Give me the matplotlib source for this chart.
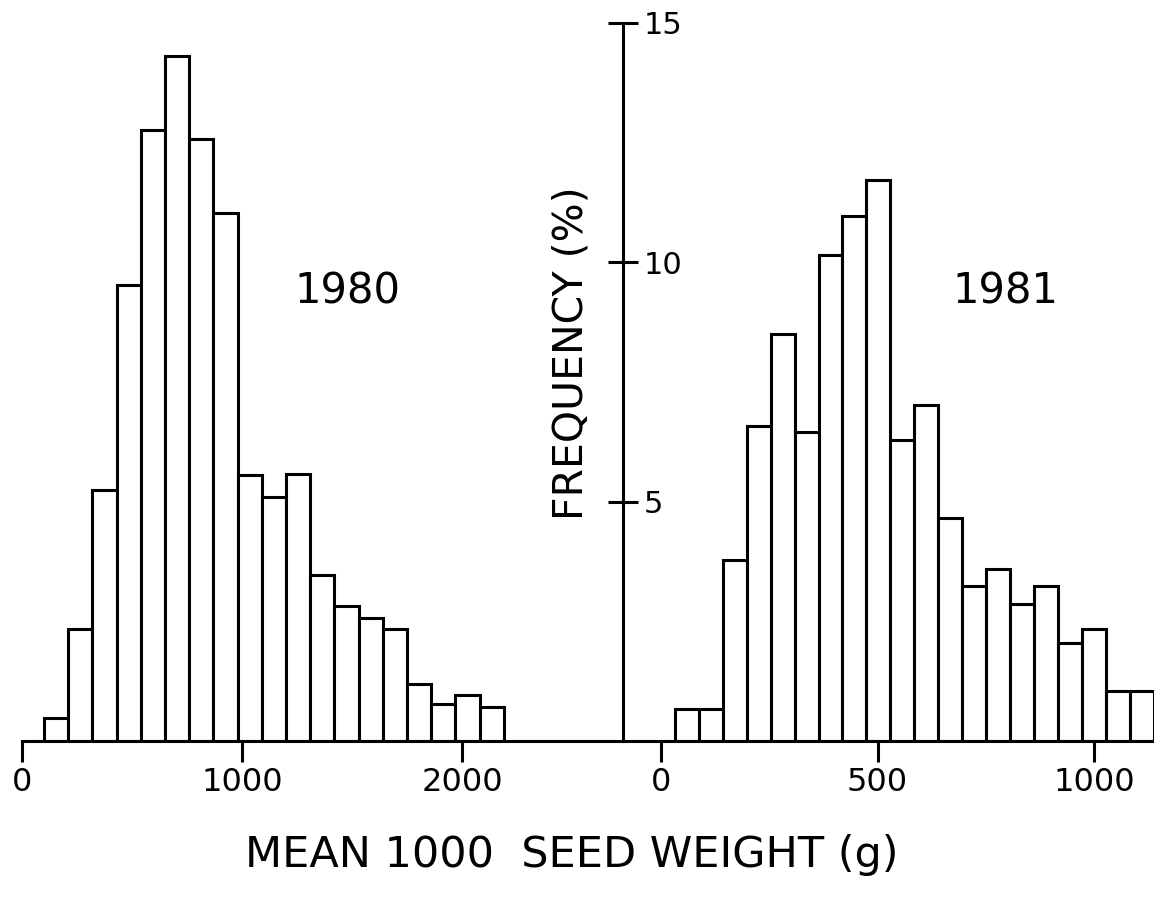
import matplotlib
matplotlib.use("Agg")
import matplotlib.pyplot as plt
import numpy as np

# 1980 histogram: bin start / width (g) and frequencies (%)
start_1980 = 100
width_1980 = 110
freq_1980 = [0.47, 2.34, 5.24, 9.53, 12.75, 14.30, 12.56, 11.02, 5.55, 5.09,
             5.57, 3.46, 2.82, 2.56, 2.33, 1.18, 0.77, 0.97, 0.71]

# 1981 histogram
start_1981 = 32
width_1981 = 55.3
freq_1981 = [0.67, 0.67, 3.77, 6.58, 8.49, 6.46, 10.14, 10.96, 11.72, 6.28,
             7.01, 4.66, 3.23, 3.60, 2.85, 3.23, 2.05, 2.33, 1.04, 1.04]

ticks_1980 = [0, 1000, 2000]
ticks_1981 = [0, 500, 1000]
freq_ticks = [5, 10, 15]

W, H = 1154, 899
fig = plt.figure(figsize=(W / 100, H / 100), dpi=100)
fig.patch.set_facecolor("white")

base_px = 741
ytop = base_px / 47.9
FONT = "DejaVu Sans"
LW = 2.2


def px_box(x0, x1):
    return [x0 / W, (H - base_px) / H, (x1 - x0) / W, base_px / H]


ax1 = fig.add_axes(px_box(0, 623))
ax2 = fig.add_axes(px_box(623, W))
ax1.set_xlim(-22 / 0.22, (623 - 22) / 0.22)
ax2.set_xlim((623 - 661) / 0.433, (W - 661) / 0.433)
for ax in (ax1, ax2):
    ax.set_ylim(0, ytop)
    ax.patch.set_alpha(0)
    for s in ("top", "right"):
        ax.spines[s].set_visible(False)
    ax.spines["bottom"].set_linewidth(LW)
    ax.tick_params(axis="x", direction="out", length=15, width=LW, pad=4,
                   labelsize=23)

left1 = start_1980 + width_1980 * np.arange(len(freq_1980))
ax1.bar(left1, freq_1980, width=width_1980, align="edge", color="white",
        edgecolor="black", linewidth=LW)
left2 = start_1981 + width_1981 * np.arange(len(freq_1981))
ax2.bar(left2, freq_1981, width=width_1981, align="edge", color="white",
        edgecolor="black", linewidth=LW)

ax1.spines["left"].set_visible(False)
ax1.spines["bottom"].set_bounds(0, (623 - 22) / 0.22)
ax1.set_yticks([])
ax1.set_xticks(ticks_1980)
ax1.set_xticklabels([str(t) for t in ticks_1980], family=FONT)

ax2.set_xticks(ticks_1981)
ax2.set_xticklabels([str(t) for t in ticks_1981], family=FONT)
ax2.spines["left"].set_linewidth(LW)
ax2.spines["left"].set_bounds(0, 15)
ax2.set_yticks(freq_ticks)
ax2.set_yticklabels([str(t) for t in freq_ticks], family=FONT)
ax2.tick_params(axis="y", direction="inout", length=22, width=LW,
                labelsize=22, pad=-26)
for lbl in ax2.get_yticklabels():
    lbl.set_horizontalalignment("left")

ax1.text((347 - 22) / 0.22, (base_px - 291) / 47.9, "1980", fontsize=30,
         family=FONT, ha="center", va="center")
ax2.text((1005 - 661) / 0.433, (base_px - 292) / 47.9, "1981", fontsize=30,
         family=FONT, ha="center", va="center")

fig.text(571 / W, 1 - 353 / H, "FREQUENCY (%)", rotation=90, fontsize=29.5,
         family=FONT, ha="center", va="center")
fig.text(572 / W, 1 - 855 / H, "MEAN 1000  SEED WEIGHT (g)", fontsize=31,
         family=FONT, ha="center", va="center")

fig.savefig("out.png", dpi=100)
